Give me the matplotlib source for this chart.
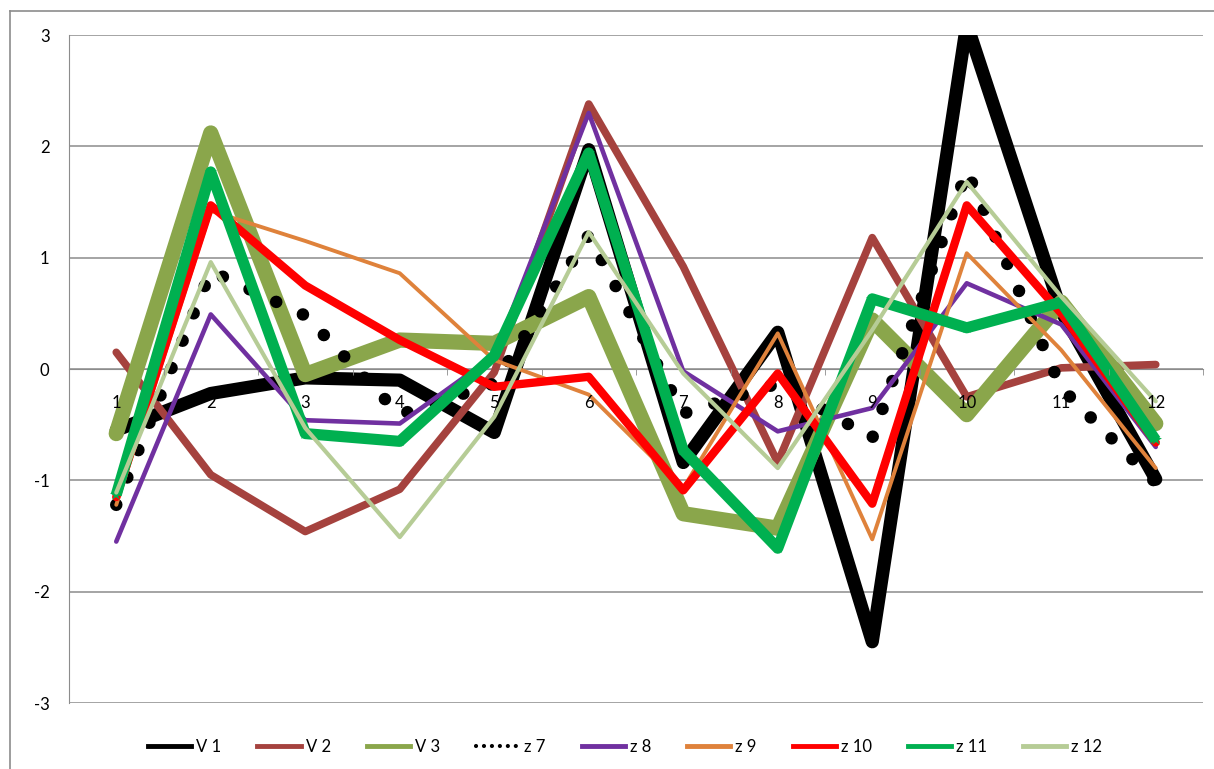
import matplotlib.pyplot as plt
from matplotlib.lines import Line2D

# chart data
categories = list(range(1, 13))
v1 = [-0.55, -0.22, -0.08, -0.10, -0.57, 1.97, -0.84, 0.33, -2.45, 3.10, 0.52, -0.99]
v2 = [0.15, -0.95, -1.46, -1.08, -0.03, 2.38, 0.92, -0.84, 1.18, -0.25, 0.01, 0.04]
v3 = [-0.58, 2.12, -0.05, 0.26, 0.23, 0.65, -1.30, -1.43, 0.44, -0.41, 0.60, -0.49]
z7 = [-1.22, 0.88, 0.48, -0.41, -0.13, 1.20, -0.40, -0.13, -0.62, 1.78, -0.17, -1.02]
z8 = [-1.55, 0.49, -0.46, -0.49, 0.12, 2.30, -0.02, -0.56, -0.35, 0.77, 0.40, -0.70]
z9 = [-1.22, 1.42, 1.15, 0.86, 0.08, -0.23, -1.07, 0.32, -1.53, 1.04, 0.17, -0.89]
z10 = [-1.15, 1.47, 0.75, 0.26, -0.16, -0.07, -1.09, -0.04, -1.21, 1.47, 0.50, -0.66]
z11 = [-1.13, 1.77, -0.58, -0.65, 0.12, 1.94, -0.73, -1.61, 0.63, 0.37, 0.60, -0.64]
z12 = [-1.11, 0.96, -0.53, -1.51, -0.43, 1.23, -0.04, -0.89, 0.35, 1.68, 0.65, -0.29]

series_names = ['V 1', 'V 2', 'V 3', 'z 7', 'z 8', 'z 9', 'z 10', 'z 11', 'z 12']
series_values = [v1, v2, v3, z7, z8, z9, z10, z11, z12]
colors = ['#000000', '#A5423E', '#8AA64B', '#000000', '#7030A0',
          '#DF823B', '#FF0000', '#00B050', '#B6CC96']
widths = [9.5, 5.5, 11, 9, 3.3, 2.8, 6, 8, 3]

plt.rcParams['font.family'] = ['Lato', 'DejaVu Sans']
plt.rcParams['font.size'] = 12
plt.rcParams['axes.unicode_minus'] = False

W, H = 1214, 769
fig = plt.figure(figsize=(W / 100, H / 100), dpi=100)
ax = fig.add_axes([69 / W, 1 - 703 / H, (1203 - 69) / W, (703 - 35) / H])

grid_col = '#8C8C8C'
for yv in range(-3, 4):
    ax.axhline(yv, color=grid_col, lw=1.1, zorder=0)

for name, vals, col, lw in zip(series_names, series_values, colors, widths):
    if name == 'z 7':
        ax.plot(categories, vals, color=col, lw=lw, linestyle=(0, (0.01, 2.35)),
                dash_capstyle='round', solid_joinstyle='round')
    elif name == 'z 11':
        ax.plot(categories, vals, color=col, lw=lw, solid_joinstyle='round',
                solid_capstyle='butt', marker='*', markersize=9, markeredgewidth=0)
    else:
        ax.plot(categories, vals, color=col, lw=lw, solid_joinstyle='round',
                solid_capstyle='round')

ax.set_xlim(0.5, 12.5)
ax.set_ylim(-3, 3)

# category axis sits at y = 0, ticks between categories, labels drawn over the lines
ax.spines['bottom'].set_position(('data', 0))
ax.spines['bottom'].set_color(grid_col)
ax.spines['bottom'].set_zorder(0.5)
ax.spines['left'].set_color(grid_col)
ax.spines['top'].set_visible(False)
ax.spines['right'].set_visible(False)
ax.xaxis.set_zorder(5)
ax.set_xticks(categories)
ax.set_xticks([c + 0.5 for c in range(0, 13)], minor=True)
ax.tick_params(axis='x', which='major', length=0, pad=19)
ax.tick_params(axis='x', which='minor', length=4, color=grid_col)
ax.set_yticks(range(-3, 4))
ax.tick_params(axis='y', length=0, pad=14)

# outer chart border (left and top edges visible)
fig.add_artist(Line2D([10 / W, 10 / W], [0, 1 - 11 / H], color=grid_col, lw=1.2))
fig.add_artist(Line2D([10 / W, 1], [1 - 11 / H, 1 - 11 / H], color=grid_col, lw=1.2))

handles = []
for name, col in zip(series_names, colors):
    if name == 'z 7':
        handles.append(Line2D([], [], color=col, lw=3, linestyle=(0, (0.01, 1.9)),
                              dash_capstyle='round'))
    else:
        handles.append(Line2D([], [], color=col, lw=3.5))
fig.legend(handles, series_names, loc='center', bbox_to_anchor=(0.515, 1 - 747 / H),
           ncol=9, frameon=False, handlelength=2.6, handletextpad=0.3,
           columnspacing=2.15, fontsize=12)

fig.savefig('out.png', dpi=100)
